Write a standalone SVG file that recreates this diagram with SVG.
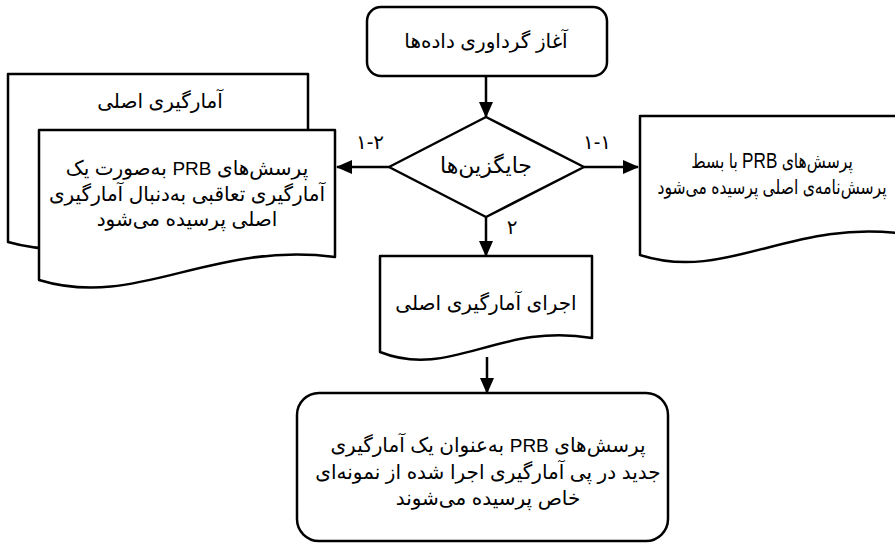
<svg xmlns="http://www.w3.org/2000/svg" width="895" height="543" viewBox="0 0 895 543">
<defs>
<marker id="ah" markerUnits="userSpaceOnUse" markerWidth="16" markerHeight="16" viewBox="0 0 16 16" refX="15" refY="8" orient="auto">
<path d="M0,1 L16,8 L0,15 Z" fill="#000"/>
</marker>
<style>
.s{fill:#fff;stroke:#000;stroke-width:2.5;stroke-linejoin:round}
.c{fill:none;stroke:#000;stroke-width:2.5;marker-end:url(#ah)}
text{font-family:"Liberation Sans","DejaVu Sans",sans-serif;font-size:20px;fill:#000;text-anchor:middle;direction:rtl}
.p{font-size:19px}
.lbl{font-size:20px;direction:ltr;unicode-bidi:bidi-override}
</style>
</defs>
<g id="start">
<rect class="s" x="367" y="7" width="240" height="69" rx="14"/>
<text x="486" y="48">آغاز گرداوری داده‌ها</text>
</g>
<g id="decision">
<path class="s" d="M486,117 L584,167 L486,217 L389,167 Z"/>
<text x="486" y="173" style="font-size:22px">جایگزین‌ها</text>
</g>
<g id="main-survey-back">
<path class="s" d="M8,74 H308 V220 C179,205 107,270 8,242 Z"/>
<text x="160" y="108">آمارگیری اصلی</text>
</g>
<g id="followup">
<path class="s" d="M39,130 H335 V257 C208,241 137,310 39,280 Z"/>
<text x="187" y="175">پرسش‌های <tspan class="p">PRB</tspan> به‌صورت یک</text>
<text x="187" y="201">آمارگیری تعاقبی به‌دنبال آمارگیری</text>
<text x="187" y="226">اصلی پرسیده می‌شود</text>
</g>
<g id="expanded">
<path class="s" d="M640,116 H905 V234 C791,218 727,283 640,255 Z"/>
<g transform="translate(772,0) scale(0.78,1)">
<text x="0" y="168">پرسش‌های <tspan style="font-size:22px">PRB</tspan> با بسط</text>
<text x="0" y="194">پرسش‌نامه‌ی اصلی پرسیده می‌شود</text>
</g>
</g>
<g id="run-main">
<path class="s" d="M380,256 H592 V338 C500,322 450,380 380,352 Z"/>
<text x="486" y="310">اجرای آمارگیری اصلی</text>
</g>
<g id="new-survey">
<rect class="s" x="297" y="393" width="371" height="148" rx="22"/>
<text x="488" y="452">پرسش‌های <tspan class="p">PRB</tspan> به‌عنوان یک آمارگیری</text>
<text x="488" y="479">جدید در پی آمارگیری اجرا شده از نمونه‌ای</text>
<text x="488" y="505">خاص پرسیده می‌شوند</text>
</g>
<g id="connectors">
<line class="c" x1="486" y1="76" x2="486" y2="117"/>
<line class="c" x1="389" y1="167" x2="337" y2="167"/>
<line class="c" x1="584" y1="167" x2="638" y2="167"/>
<line class="c" x1="486" y1="217" x2="486" y2="256"/>
<line class="c" x1="487" y1="357" x2="487" y2="393"/>
<text class="lbl" x="370" y="149">۱-۲</text>
<text class="lbl" x="597" y="149">۱-۱</text>
<text class="lbl" x="512" y="234">۲</text>
</g>
</svg>
